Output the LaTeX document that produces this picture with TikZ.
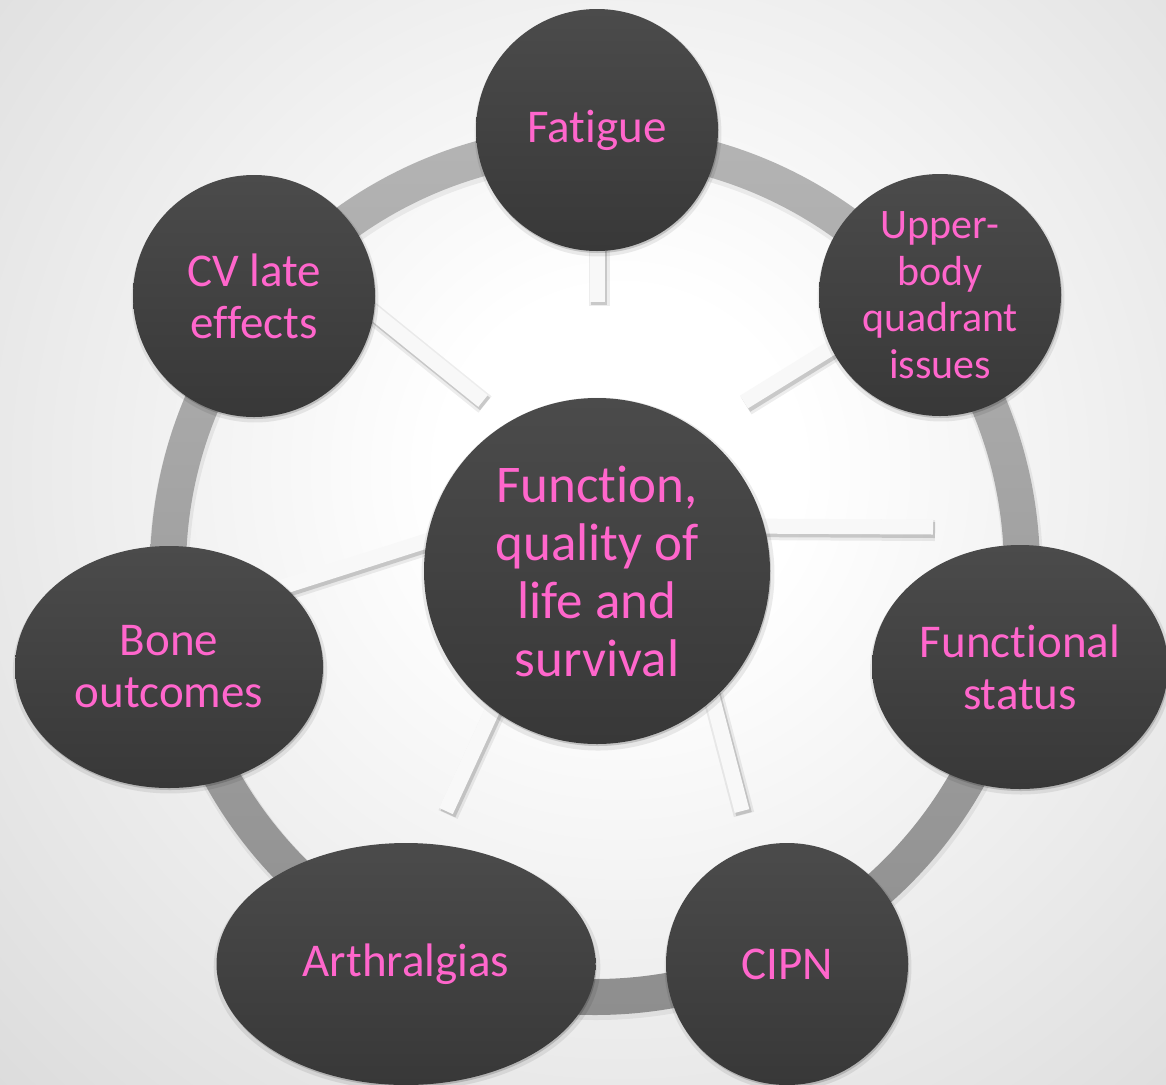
\documentclass[tikz,border=0pt]{standalone}
\usepackage{fontspec}
\setmainfont{Carlito}[Ligatures=NoCommon]
\usetikzlibrary{shapes.geometric,shadows}
\definecolor{petal}{HTML}{FF66CC}
\definecolor{discTop}{HTML}{4B4B4B}
\definecolor{discBot}{HTML}{383838}
\definecolor{bgedge}{HTML}{BEBEBE}
\definecolor{ringTop}{HTML}{B4B4B4}
\definecolor{ringBot}{HTML}{8E8E8E}
\definecolor{spokeWhite}{HTML}{F8F8F8}
\pgfdeclareradialshading{backdrop}{\pgfpointorigin}{color(0bp)=(white); color(5bp)=(white); color(41bp)=(bgedge); color(50bp)=(bgedge)}
\pgfdeclarelayer{ground}
\pgfdeclarelayer{spokes}
\pgfsetlayers{ground,spokes,main}

\begin{document}
\begin{tikzpicture}[x=1pt,y=-1pt,
  soft shadow/.style={
    general shadow={shadow xshift=1pt, shadow yshift=-3pt, shadow scale=1.02, fill=black, opacity=0.08},
    general shadow={shadow xshift=1pt, shadow yshift=-2pt, fill=black, opacity=0.16}},
  disc/.style={circle, minimum size=242pt, inner sep=0pt,
    top color=discTop, bottom color=discBot, text=petal, align=center,
    font=\fontsize{47}{52}\selectfont, soft shadow},
  oval/.style={disc, ellipse},
  spoke/.style={draw=spokeWhite, line width=15pt,
    preaction={draw=black, draw opacity=0.07, line width=21pt, transform canvas={shift={(2pt,-3.5pt)}}},
    preaction={draw=black, draw opacity=0.15, line width=16pt, transform canvas={shift={(2pt,-3pt)}}}}
]
\useasboundingbox (0,0) rectangle (1166,1084);

% hub and satellites
\node[disc, minimum size=346pt, font=\fontsize{53}{58}\selectfont] (cen) at (597,571) {Function,\\quality of\\life and\\survival};
\node[disc] (fat) at (597,130) {Fatigue};
\node[disc, font=\fontsize{42}{46.5}\selectfont] (ub) at (940,295) {Upper-\\body\\quadrant\\issues};
\node[oval, minimum width=296pt, minimum height=244pt] (fs) at (1020,667) {Functional\\status};
\node[disc] (cipn) at (787,964) {CIPN};
\node[oval, minimum width=379pt, minimum height=242pt] (arth) at (406,964) {Arthralgias};
\node[oval, minimum width=308pt, minimum height=242pt] (bone) at (169,667) {Bone\\outcomes};
\node[disc] (cv) at (254,296) {CV late\\effects};

% free ends of the spokes
\coordinate (fat-tip) at (597,302);
\coordinate (ub-tip) at (744,402);
\coordinate (fs-tip) at (933,527);
\coordinate (cipn-tip) at (742,811);
\coordinate (arth-tip) at (446,811);
\coordinate (cv-tip) at (483,401);

\begin{pgfonlayer}{spokes}
  \draw[spoke, shorten <=-8pt] (fat) -- (fat-tip);
  \draw[spoke, shorten <=-8pt] (ub.206) -- (ub-tip);
  \draw[spoke, shorten <=-8pt] (cen.15) -- (fs-tip);
  \draw[spoke, shorten <=-8pt] (cen.-48) -- (cipn-tip);
  \draw[spoke, shorten <=-8pt] (cen.-127) -- (arth-tip);
  \draw[spoke, shorten <=-8pt, shorten >=-8pt] (cen.170) -- (bone.35);
  \draw[spoke, shorten <=-8pt] (cv.-8) -- (cv-tip);
\end{pgfonlayer}

\begin{pgfonlayer}{ground}
  \fill[bgedge] (0,0) rectangle (1166,1084);
  \shade[shading=backdrop] (620,470) circle[radius=900pt];
  % ring behind the satellites
  \fill[black, opacity=0.06, even odd rule] (596,573) circle[radius=447pt] (596,573) circle[radius=407pt];
  \shade[top color=ringTop, bottom color=ringBot, even odd rule] (595,570) circle[radius=445pt] (595,570) circle[radius=409pt];
\end{pgfonlayer}
\end{tikzpicture}
\end{document}
